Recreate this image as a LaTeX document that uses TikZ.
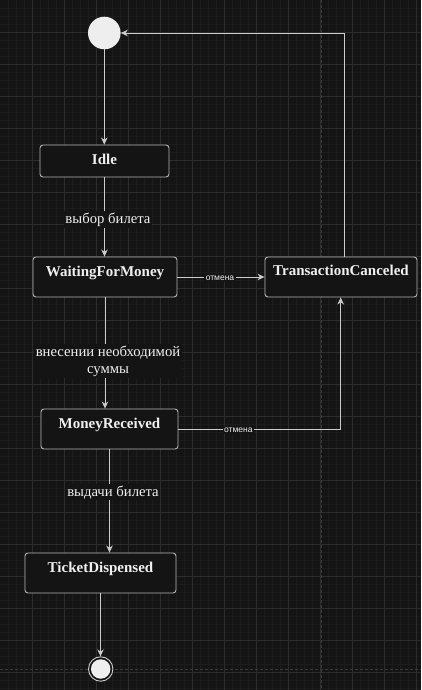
\documentclass[tikz,border=0pt]{standalone}
\usepackage{fontspec}
\setmainfont{Liberation Serif}
\newfontfamily\labsans{Liberation Sans}
\usetikzlibrary{arrows.meta}
\definecolor{bg}{HTML}{141414}
\definecolor{minorgrid}{HTML}{1C1C1C}
\definecolor{majorgrid}{HTML}{2C2C2C}
\definecolor{pageline}{HTML}{3A3A3A}
\definecolor{boxline}{HTML}{B4B4B4}
\definecolor{edgeline}{HTML}{CCCCCC}
\definecolor{txt}{HTML}{F0F0F0}
\definecolor{dotfill}{HTML}{EEEEEE}
\tikzset{
  stbox/.style={draw=boxline, fill=bg, line width=0.9pt, rounded corners=3pt, inner sep=0pt},
  sttext/.style={text=txt, font=\fontsize{15}{18}\selectfont\bfseries, anchor=base, inner sep=0pt},
  edge/.style={draw=edgeline, line width=0.9pt, -{Stealth[length=7pt,width=6.5pt,inset=2.2pt]}},
  lab/.style={text=txt, fill=bg, font=\fontsize{14.7}{17.3}\selectfont, align=center, inner sep=1.5pt, anchor=base},
  smalllab/.style={text=txt, fill=bg, font=\labsans\fontsize{8.5}{10}\selectfont, inner sep=1.5pt, anchor=base},
  initst/.style={circle, fill=dotfill, inner sep=0pt, minimum size=32.6pt},
  finalring/.style={circle, draw=edgeline, fill=bg, line width=0.9pt, inner sep=0pt, minimum size=24.4pt},
  finaldot/.style={circle, fill=dotfill, inner sep=0pt, minimum size=19.5pt}
}
\begin{document}
\begin{tikzpicture}[x=1pt,y=-1pt]
\fill[bg] (0,0) rectangle (421,690);
\useasboundingbox (0,0) rectangle (421,690);
% grid
\foreach \x in {8,16,...,416} \draw[minorgrid, line width=0.8pt] (\x,0) -- (\x,690);
\foreach \y in {8,16,...,688} \draw[minorgrid, line width=0.8pt] (0,\y) -- (421,\y);
\foreach \x in {32,64,...,416} \draw[majorgrid, line width=0.9pt] (\x,0) -- (\x,690);
\foreach \y in {32,64,...,688} \draw[majorgrid, line width=0.9pt] (0,\y) -- (421,\y);
\draw[pageline, line width=0.9pt, dash pattern=on 3pt off 2pt] (321.3,0) -- (321.3,690);
\draw[pageline, line width=0.9pt, dash pattern=on 3pt off 2pt] (0,669.3) -- (421,669.3);

% states
\node[initst] (init) at (104.3,33) {};
\node[stbox, minimum width=129pt, minimum height=32pt] (idle) at (104.5,161) {};
\node[stbox, minimum width=144pt, minimum height=40pt] (wfm) at (105,277) {};
\node[stbox, minimum width=152pt, minimum height=40pt] (tc) at (341,277) {};
\node[stbox, minimum width=137pt, minimum height=40pt] (mr) at (109.5,429) {};
\node[stbox, minimum width=151pt, minimum height=40pt] (td) at (100.5,573) {};
\node[finalring] (final) at (100.7,669) {};
\node[finaldot] (finalin) at (final.center) {};

\node[sttext] (idlet) at (104.5,164.3) {Idle};
\node[sttext] (wfmt) at (105,276) {WaitingForMoney};
\node[sttext] (tct) at (341,275.7) {TransactionCanceled};
\node[sttext] (mrt) at (109.5,428) {MoneyReceived};
\node[sttext] (tdt) at (100.5,572) {TicketDispensed};

% transitions
\draw[edge] (init.south) -- (init.south |- idle.north);
\draw[edge] (idle.south) -- (idle.south |- wfm.north);
\draw[edge] (wfm.east) -- (wfm.east -| tc.west);
\draw[edge] (wfm.south) -- (wfm.south |- mr.north);
\draw[edge] (mr.east) -| ([xshift=-0.3pt]tc.south);
\draw[edge] ([xshift=3.5pt]tc.north) |- (init.east);
\draw[edge] (mr.south) -- (mr.south |- td.north);
\draw[edge] (td.south) -- (td.south |- final.north);

% labels
\node[lab] (l1) at (108,223.3) {выбор билета};
\node[lab] (l2) at (108,373.3) {внесении необходимой\\суммы};
\node[lab] (l3) at (113,496) {выдачи билета};
\node[smalllab] (l4) at (220,280.3) {отмена};
\node[smalllab] (l5) at (238.3,432) {отмена};
\end{tikzpicture}
\end{document}
